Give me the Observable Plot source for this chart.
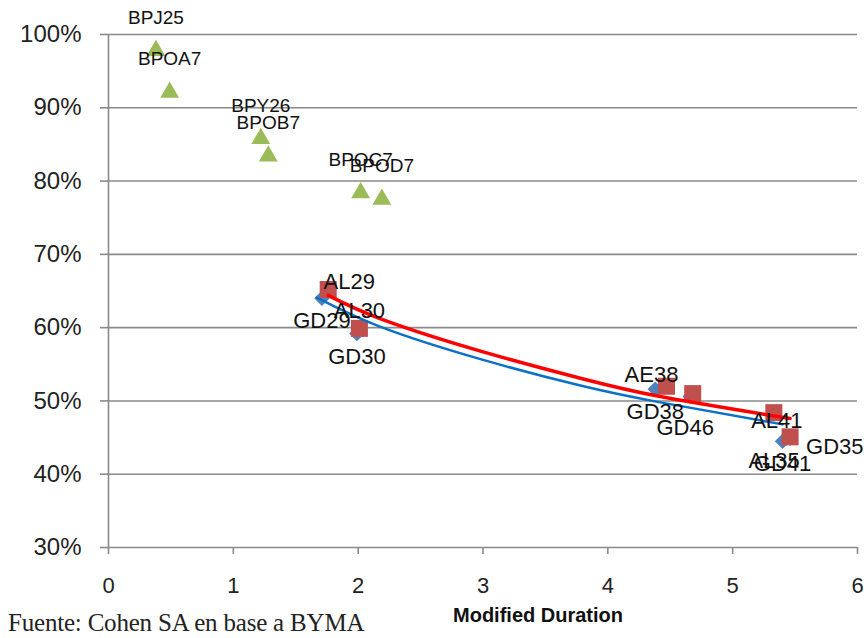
<!DOCTYPE html>
<html>
<head>
<meta charset="utf-8">
<script src="https://cdn.jsdelivr.net/npm/d3@7"></script>
<script src="https://cdn.jsdelivr.net/npm/@observablehq/plot@0.6"></script>
<style>
  body { margin: 0; background: #fff; font-family: "Liberation Sans", Arial, sans-serif; }
  #chart { width: 867px; }
  #foot { position: relative; width: 867px; height: 38px; }
  .fuente { position: absolute; left: 8px; top: 10px; font-family: "Liberation Serif", serif; font-size: 25px; line-height: 25px; color: #222; letter-spacing: -0.2px; }
  .xlabel { position: absolute; left: 538px; top: 5px; transform: translateX(-50%); font-weight: bold; font-size: 20px; line-height: 20px; color: #111; white-space: nowrap; }
</style>
</head>
<body>
<div id="chart"></div>
<div id="foot">
  <div class="fuente">Fuente: Cohen SA en base a BYMA</div>
  <div class="xlabel">Modified Duration</div>
</div>
<script>
// ticks
const xTicks = [0, 1, 2, 3, 4, 5, 6];
const yTicks = [30, 40, 50, 60, 70, 80, 90, 100];

// Bopreal (green triangles)
const greenNames = ["BPJ25", "BPOA7", "BPY26", "BPOB7", "BPOC7", "BPOD7"];
const greenDur = [0.38, 0.49, 1.22, 1.28, 2.02, 2.19];
const greenPrice = [97.8, 92.1, 85.8, 83.4, 78.4, 77.5];

// ley local (red squares)
const redNames = ["AL29", "AL30", "AE38", "", "AL41", "AL35"];
const redDur = [1.76, 2.01, 4.47, 4.68, 5.33, 5.46];
const redPrice = [65.2, 59.9, 52.0, 51.0, 48.4, 45.1];

// ley NY (blue diamonds)
const blueNames = ["GD29", "GD30", "GD38", "GD46", "GD41", "GD35"];
const blueDur = [1.71, 1.99, 4.38, 4.66, 5.40, 5.46];
const bluePrice = [64.0, 59.2, 51.6, 50.6, 44.5, 44.9];

// trend lines
const redTrendDur = [1.76, 2.18, 2.98, 3.78, 4.42, 5.46];
const redTrendPrice = [64.4, 61.2, 56.8, 53.1, 50.6, 47.6];
const blueTrendDur = [1.67, 2.18, 2.98, 3.78, 4.42, 5.40];
const blueTrendPrice = [64.1, 60.1, 55.7, 52.1, 49.8, 46.8];

const toRows = (names, xs, ys) => xs.map((x, i) => ({name: names ? names[i] : null, x, y: ys[i]}));
const green = toRows(greenNames, greenDur, greenPrice);
const red = toRows(redNames, redDur, redPrice);
const blue = toRows(blueNames, blueDur, bluePrice);
const redTrend = toRows(null, redTrendDur, redTrendPrice);
const blueTrend = toRows(null, blueTrendDur, blueTrendPrice);

// label placement like in the excel chart
const nudge = {
  AL29: {dx: 21, dy: -8},
  AE38: {dx: -15, dy: -11},
  AL41: {dx: 3, dy: 8},
  AL35: {dx: -16, dy: 24},
  GD35: {dx: 16, dy: 9, anchor: "start"},
  GD46: {dx: -5, dy: 31}
};

function labels(rows, base, fontSize) {
  return rows.filter((d) => d.name).map((d) => {
    const n = nudge[d.name] || {};
    return Plot.text([d], {
      x: "x", y: "y", text: "name",
      dx: n.dx ?? base.dx, dy: n.dy ?? base.dy,
      textAnchor: n.anchor || "middle",
      fontSize, fill: "#111"
    });
  });
}

const grey = "#8a8a8a";

let chart = Plot.plot({
  width: 867,
  height: 600,
  marginLeft: 108,
  marginRight: 10,
  marginTop: 34,
  marginBottom: 53,
  style: {fontFamily: "Liberation Sans, Arial, sans-serif", background: "#fff", color: "#222", overflow: "visible"},
  x: {domain: [0, 6]},
  y: {domain: [30, 100]},
  marks: [
    Plot.ruleY(yTicks, {stroke: grey, strokeWidth: 1.6}),
    Plot.ruleX([0], {stroke: grey, strokeWidth: 1.6}),
    Plot.axisY({ticks: yTicks, tickFormat: (d) => d + "%", tickSize: 8, tickPadding: 19, fontSize: 24, stroke: grey, strokeWidth: 1.6, label: null}),
    Plot.axisX({ticks: xTicks, tickFormat: (d) => d, tickSize: 7, tickPadding: 23, fontSize: 22, stroke: grey, strokeWidth: 1.6, label: null}),
    Plot.dot(blue, {x: "x", y: "y", symbol: "diamond2", r: 7, fill: "#4f81bd"}),
    Plot.dot(red, {x: "x", y: "y", symbol: "square", r: 9.6, fill: "#c0504d"}),
    Plot.dot(green, {x: "x", y: "y", symbol: "triangle", r: 7, fill: "#9bbb59"}),
    Plot.line(blueTrend, {x: "x", y: "y", stroke: "#0a70c8", strokeWidth: 2.5, curve: "natural"}),
    Plot.line(redTrend, {x: "x", y: "y", stroke: "#ff0000", strokeWidth: 3.5, curve: "natural"}),
    ...labels(green, {dx: 0, dy: -33}, 19),
    ...labels(red, {dx: 0, dy: -17}, 22),
    ...labels(blue, {dx: 0, dy: 23}, 22)
  ]
});
d3.select("#chart").append(() => chart);
</script>
</body>
</html>
